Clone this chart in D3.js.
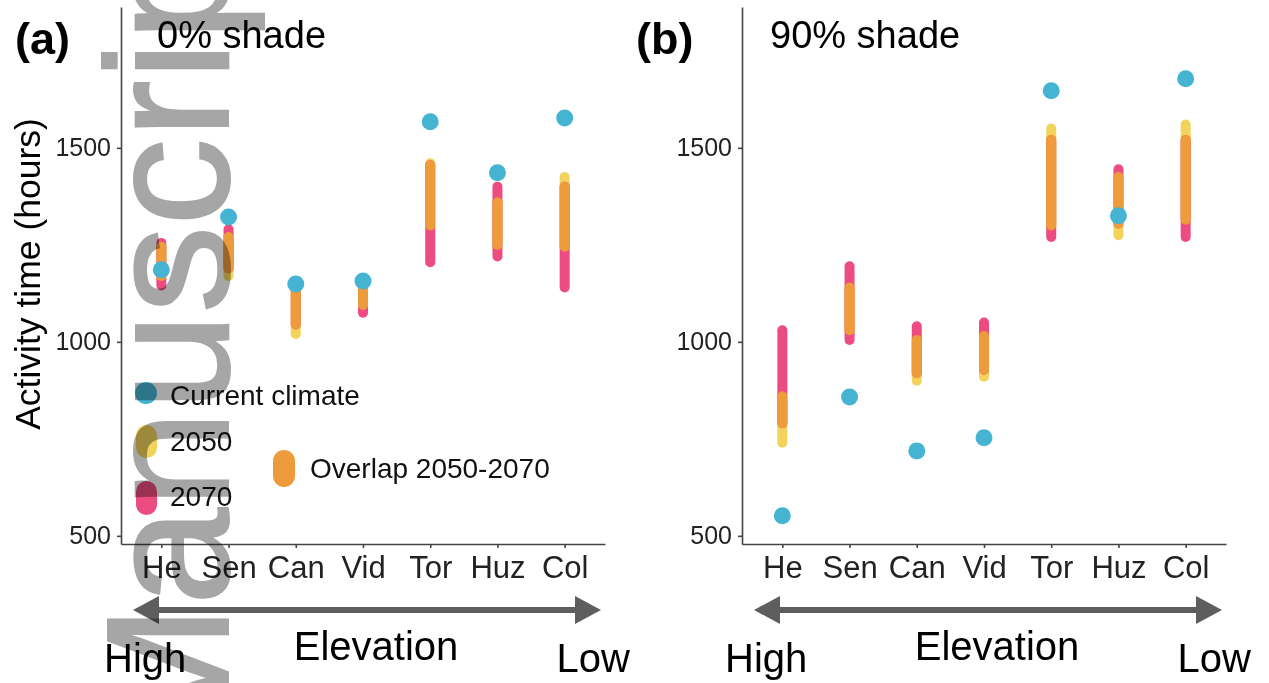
<!DOCTYPE html>
<html>
<head>
<meta charset="utf-8">
<script src="https://cdn.jsdelivr.net/npm/d3@7"></script>
<style>
  body { margin: 0; background: #fff; }
  svg { display: block; font-family: "Liberation Sans", Arial, Helvetica, sans-serif; }
  .axis path, .axis line { stroke: #444; stroke-width: 1.6; }
  .axis text { fill: #222; }
</style>
</head>
<body>
<svg id="chart" width="1269" height="683"></svg>
<script>
// sites, high to low elevation
var sites = ["He", "Sen", "Can", "Vid", "Tor", "Huz", "Col"];
var yTicks = [500, 1000, 1500];

// (a) 0% shade, activity time in hours
var current0 = [1186, 1322, 1149, 1157, 1567, 1436, 1577];
var min2050_0 = [1170, 1170, 1020, 1095, 1300, 1250, 1245];
var max2050_0 = [1245, 1270, 1130, 1140, 1460, 1360, 1425];
var min2070_0 = [1145, 1190, 1045, 1075, 1205, 1220, 1140];
var max2070_0 = [1255, 1290, 1135, 1135, 1455, 1400, 1400];

// (b) 90% shade
var current90 = [552, 858, 719, 753, 1647, 1325, 1678];
var min2050_90 = [740, 1030, 900, 910, 1300, 1275, 1315];
var max2050_90 = [860, 1140, 1005, 1015, 1550, 1425, 1560];
var min2070_90 = [790, 1005, 920, 928, 1270, 1305, 1270];
var max2070_90 = [1030, 1195, 1040, 1050, 1520, 1445, 1520];

var colCurrent = "#45b4d2",
    col2050 = "#f2d35c",
    col2070 = "#ec4c80",
    colOverlap = "#ee9b3b";

var svg = d3.select("#chart");

function drawPanel(opts) {
    var g = svg.append("g");

    var x = d3.scalePoint()
        .domain(sites)
        .range([opts.left, opts.left + 484])
        .padding(0.6);

    var y = d3.scaleLinear()
        .domain([479, 1863])
        .range([544, 7]);

    // axes
    g.append("g")
        .attr("class", "axis")
        .attr("transform", "translate(" + opts.left + ",0)")
        .call(d3.axisLeft(y).tickValues(yTicks).tickFormat(d3.format("d"))
            .tickSize(4).tickSizeOuter(0).tickPadding(6))
        .selectAll("text")
        .style("font-size", "25px");

    g.append("g")
        .attr("class", "axis")
        .attr("transform", "translate(0,544)")
        .call(d3.axisBottom(x).tickSize(4).tickSizeOuter(0).tickPadding(8))
        .selectAll("text")
        .style("font-size", "31px");

    g.selectAll(".axis .domain").attr("stroke", "#555");

    // ranges: 2050, 2070 and their overlap
    var bars = sites.map(function(s, i) {
        return {
            site: s,
            a0: opts.min2050[i], a1: opts.max2050[i],
            b0: opts.min2070[i], b1: opts.max2070[i],
            o0: Math.max(opts.min2050[i], opts.min2070[i]),
            o1: Math.min(opts.max2050[i], opts.max2070[i])
        };
    });

    function seg(cls, color, lo, hi) {
        g.selectAll("." + cls)
            .data(bars)
            .enter().append("line")
            .attr("class", cls)
            .attr("x1", function(d) { return x(d.site); })
            .attr("x2", function(d) { return x(d.site); })
            .attr("y1", function(d) { return y(lo(d)); })
            .attr("y2", function(d) { return y(hi(d)); })
            .attr("stroke", color)
            .attr("stroke-width", 10)
            .attr("stroke-linecap", "round");
    }
    seg("r2050", col2050, function(d) { return d.a0; }, function(d) { return d.a1; });
    seg("r2070", col2070, function(d) { return d.b0; }, function(d) { return d.b1; });
    seg("rover", colOverlap, function(d) { return d.o0; }, function(d) { return d.o1; });

    g.selectAll(".cur")
        .data(opts.current)
        .enter().append("circle")
        .attr("class", "cur")
        .attr("cx", function(d, i) { return x(sites[i]); })
        .attr("cy", function(d) { return y(d); })
        .attr("r", 8.5)
        .attr("fill", colCurrent);

    // labels
    g.append("text")
        .attr("x", opts.left - 106)
        .attr("y", 54)
        .style("font-size", "45px")
        .style("font-weight", "bold")
        .text(opts.tag);

    g.append("text")
        .attr("x", opts.left + opts.titleDx)
        .attr("y", 48)
        .style("font-size", "38px")
        .text(opts.title);

    // elevation arrow
    var ay = 610, x0 = opts.left + 12, x1 = opts.left + 480;
    g.append("line")
        .attr("x1", x0 + 20).attr("x2", x1 - 20)
        .attr("y1", ay).attr("y2", ay)
        .attr("stroke", "#5e5e5e").attr("stroke-width", 6);
    g.append("path")
        .attr("d", "M" + x0 + "," + ay + "L" + (x0 + 26) + "," + (ay - 14) + "L" + (x0 + 26) + "," + (ay + 14) + "Z")
        .attr("fill", "#5e5e5e");
    g.append("path")
        .attr("d", "M" + x1 + "," + ay + "L" + (x1 - 26) + "," + (ay - 14) + "L" + (x1 - 26) + "," + (ay + 14) + "Z")
        .attr("fill", "#5e5e5e");

    g.append("text").attr("x", opts.left - 17).attr("y", 672)
        .style("font-size", "40px").text("High");
    g.append("text").attr("x", opts.left + 255).attr("y", 660)
        .style("font-size", "40px").attr("text-anchor", "middle").text("Elevation");
    g.append("text").attr("x", opts.left + 509).attr("y", 672)
        .style("font-size", "40px").attr("text-anchor", "end").text("Low");

    return {x: x, y: y, g: g};
}

var pa = drawPanel({
    left: 121, tag: "(a)", title: "0% shade", titleDx: 36,
    current: current0, min2050: min2050_0, max2050: max2050_0,
    min2070: min2070_0, max2070: max2070_0
});

var pb = drawPanel({
    left: 742, tag: "(b)", title: "90% shade", titleDx: 28,
    current: current90, min2050: min2050_90, max2050: max2050_90,
    min2070: min2070_90, max2070: max2070_90
});

// y axis title
svg.append("text")
    .attr("transform", "translate(40,274) rotate(-90)")
    .attr("text-anchor", "middle")
    .style("font-size", "35.5px")
    .text("Activity time (hours)");

// legend inside panel (a)
var legend = svg.append("g");
legend.append("circle").attr("cx", 146).attr("cy", 393).attr("r", 11).attr("fill", colCurrent);
legend.append("rect").attr("x", 136).attr("y", 425).attr("width", 21).attr("height", 33)
    .attr("rx", 10.5).attr("fill", col2050);
legend.append("rect").attr("x", 136).attr("y", 481).attr("width", 21).attr("height", 34)
    .attr("rx", 10.5).attr("fill", col2070);
legend.append("rect").attr("x", 273).attr("y", 450).attr("width", 22).attr("height", 37)
    .attr("rx", 11).attr("fill", colOverlap);

var legendText = [["Current climate", 170, 405], ["2050", 170, 451], ["2070", 170, 506], ["Overlap 2050-2070", 310, 478]];
legend.selectAll("text")
    .data(legendText)
    .enter().append("text")
    .attr("x", function(d) { return d[1]; })
    .attr("y", function(d) { return d[2]; })
    .style("font-size", "28px")
    .style("fill", "#111")
    .text(function(d) { return d[0]; });

// manuscript watermark
svg.append("text")
    .attr("transform", "translate(228,751) rotate(-90)")
    .style("font-size", "175px")
    .style("fill", "#a6a6a6")
    .style("stroke", "#a6a6a6")
    .style("stroke-width", 2)
    .style("mix-blend-mode", "multiply")
    .text("Manuscript");
</script>
</body>
</html>
